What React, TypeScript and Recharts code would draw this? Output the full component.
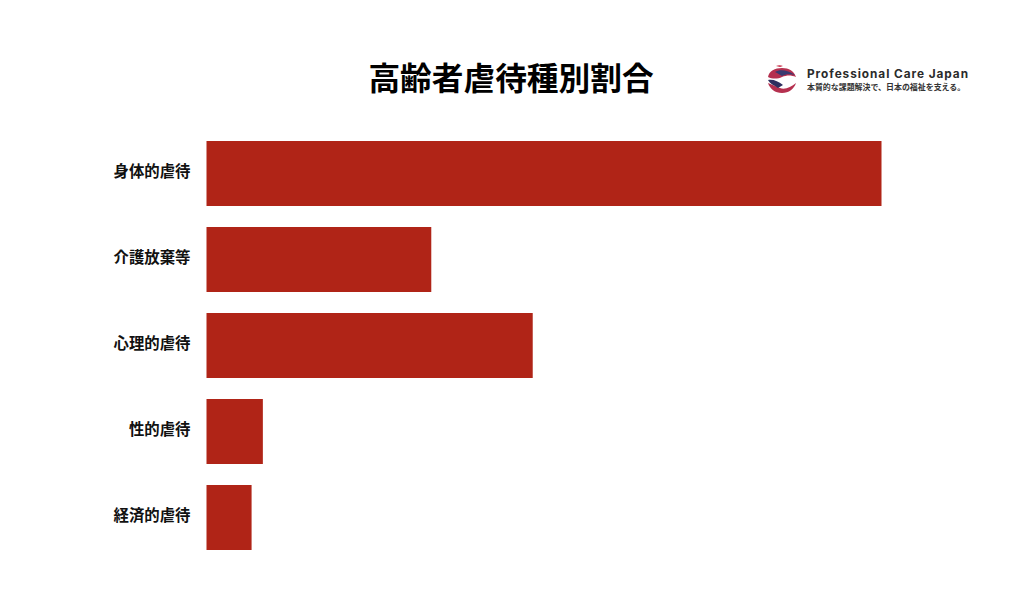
import { BarChart, Bar, XAxis, YAxis } from "recharts";

const categories = ["身体的虐待", "介護放棄等", "心理的虐待", "性的虐待", "経済的虐待"];
const shares = [50.9, 16.95, 24.6, 4.25, 3.4];
const title = "高齢者虐待種別割合";
const brandName = "Professional Care Japan";
const brandTagline = "本質的な課題解決で、日本の福祉を支える。";

const data = categories.map((name, i) => ({ name, share: shares[i] }));
const jpFont = '"Noto Sans CJK JP", sans-serif';

function Logo() {
  return (
    <g>
      <path d="M768 77 C769 71 775 68 782 68 C789 68 794 71 796 77 C791 75 787 75 782 77 C778 79 772 79 768 77 Z" fill="#b5304f" />
      <path d="M776 66 C778 65 781 65 783 66 L780 67 Z" fill="#c8314a" />
      <path d="M775 72 C780 69 788 70 795 75 C790 74 786 74 782 76 C779 74 777 73 775 72 Z" fill="#3a3a70" />
      <path d="M768 83 C772 85 776 86 780 88 C785 90 791 87 796 83 C794 89 789 93 782 93 C775 93 770 89 768 83 Z" fill="#b5304f" />
      <path d="M768 80 C773 79 778 81 783 85 L778 88 C774 85 770 84 768 80 Z" fill="#2f2f5f" />
    </g>
  );
}

export default function App() {
  return (
    <div style={{ position: "absolute", left: 0, top: 0, width: 1024, height: 606, background: "#fff" }}>
      <BarChart
        width={1024}
        height={606}
        data={data}
        layout="vertical"
        margin={{ top: 130, right: 142.5, left: 6.5, bottom: 46 }}
      >
        <XAxis type="number" hide domain={[0, 50.9]} />
        <YAxis
          type="category"
          dataKey="name"
          width={200}
          axisLine={false}
          tickLine={false}
          tickSize={0}
          tickMargin={16}
          interval={0}
          tick={{ fontSize: 15.4, fontWeight: 700, fill: "#111", fontFamily: jpFont, dy: -1 }}
        />
        <Bar dataKey="share" fill="#B02417" barSize={65} isAnimationActive={false} />
        <text x={511} y={90} textAnchor="middle" fontSize={31.7} fontWeight={700} fill="#000" fontFamily={jpFont}>
          {title}
        </text>
        <Logo />
        <text x={807} y={78} fontSize={11.8} fontWeight={700} fill="#2b2b2b" letterSpacing={0.95} fontFamily="Inter, sans-serif">
          {brandName}
        </text>
        <text x={807} y={90} fontSize={7.95} fontWeight={700} fill="#333" fontFamily={jpFont}>
          {brandTagline}
        </text>
      </BarChart>
    </div>
  );
}
